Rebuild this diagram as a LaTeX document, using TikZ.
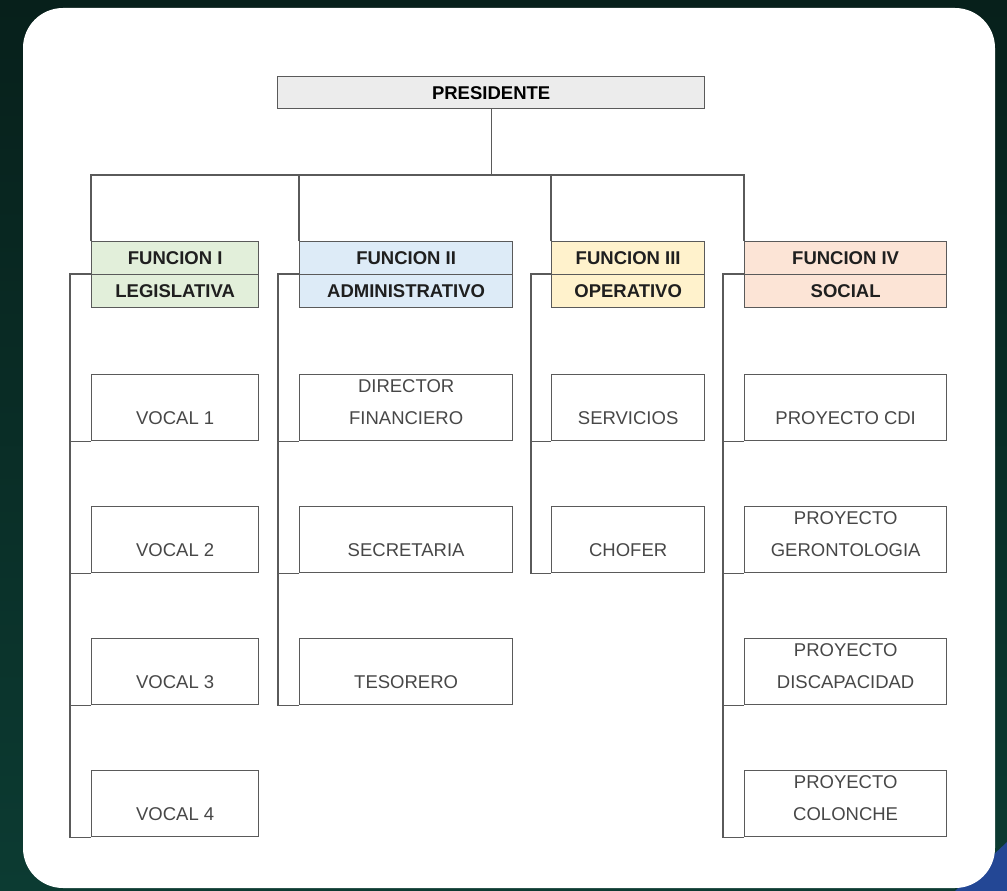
\documentclass[tikz,border=0pt]{standalone}
\usepackage{fontspec}
\setmainfont{Liberation Sans}
\usepackage{xcolor}
\usepackage{tikz}
\usetikzlibrary{positioning}
\definecolor{bgtop}{HTML}{07201B}
\definecolor{bgbot}{HTML}{0C3B32}
\definecolor{cornerblue}{HTML}{234795}
\definecolor{linegray}{HTML}{5A5A5A}
\definecolor{presgray}{HTML}{ECECEC}
\definecolor{fgreen}{HTML}{E2EFDA}
\definecolor{fblue}{HTML}{DDEBF7}
\definecolor{fyellow}{HTML}{FFF2CC}
\definecolor{fsalmon}{HTML}{FCE4D6}
\newcommand{\two}[2]{\strut #1\\\strut #2}
\tikzset{
    box/.style = {draw=linegray, line width=1.3pt, inner sep=0pt, align=center},
    head node/.style = {box, minimum height=33pt, font=\bfseries\fontsize{18.5}{20}\selectfont, text=black!88},
    sub node/.style = {box, fill=white, minimum height=66pt, text height=45pt, text depth=10pt, font=\fontsize{18.5}{32}\selectfont, text=black!72},
    link/.style = {draw=linegray, line width=1.2pt},
    col 1/.style = {minimum width=167pt},
    col 2/.style = {minimum width=213pt},
    col 3/.style = {minimum width=153pt},
    col 4/.style = {minimum width=202pt}
}
\begin{document}
\begin{tikzpicture}[x=1pt,y=-1pt]
    \useasboundingbox (0,0) rectangle (1007,891);
    \shade[top color=bgtop, bottom color=bgbot] (0,0) rectangle (1007,891);
    \fill[cornerblue] (1007,842) -- (1007,891) -- (955,891) -- cycle;
    \fill[white, rounded corners=40pt] (23,8) rectangle (995,888);

    % top
    \node(P)[box, fill=presgray, anchor=north west, minimum width=427pt, minimum height=32pt, font=\bfseries\fontsize{18.5}{20}\selectfont] at (277,76) {PRESIDENTE};
    \coordinate (bus) at (531,175);

    % functions
    \node(1)[head node, col 1, fill=fgreen, anchor=north west] at (91,241) {FUNCION I};
    \node(1b)[head node, col 1, fill=fgreen, below=-1.3pt of 1] {LEGISLATIVA};
    \node(2)[head node, col 2, fill=fblue, anchor=north west] at (299,241) {FUNCION II};
    \node(2b)[head node, col 2, fill=fblue, below=-1.3pt of 2] {ADMINISTRATIVO};
    \node(3)[head node, col 3, fill=fyellow, anchor=north west] at (551,241) {FUNCION III};
    \node(3b)[head node, col 3, fill=fyellow, below=-1.3pt of 3] {OPERATIVO};
    \node(4)[head node, col 4, fill=fsalmon, anchor=north west] at (744,241) {FUNCION IV};
    \node(4b)[head node, col 4, fill=fsalmon, below=-1.3pt of 4] {SOCIAL};

    % legislativa
    \node(1-1)[sub node, col 1, below=65.5pt of 1b] {\two{}{VOCAL 1}};
    \node(1-2)[sub node, col 1, below=64.7pt of 1-1] {\two{}{VOCAL 2}};
    \node(1-3)[sub node, col 1, below=64.7pt of 1-2] {\two{}{VOCAL 3}};
    \node(1-4)[sub node, col 1, below=64.7pt of 1-3] {\two{}{VOCAL 4}};
    % administrativo
    \node(2-1)[sub node, col 2, below=65.5pt of 2b] {\two{DIRECTOR}{FINANCIERO}};
    \node(2-2)[sub node, col 2, below=64.7pt of 2-1] {\two{}{SECRETARIA}};
    \node(2-3)[sub node, col 2, below=64.7pt of 2-2] {\two{}{TESORERO}};
    % operativo
    \node(3-1)[sub node, col 3, below=65.5pt of 3b] {\two{}{SERVICIOS}};
    \node(3-2)[sub node, col 3, below=64.7pt of 3-1] {\two{}{CHOFER}};
    % social
    \node(4-1)[sub node, col 4, below=65.5pt of 4b] {\two{}{PROYECTO CDI}};
    \node(4-2)[sub node, col 4, below=64.7pt of 4-1] {\two{PROYECTO}{GERONTOLOGIA}};
    \node(4-3)[sub node, col 4, below=64.7pt of 4-2] {\two{PROYECTO}{DISCAPACIDAD}};
    \node(4-4)[sub node, col 4, below=64.7pt of 4-3] {\two{PROYECTO}{COLONCHE}};

    % connectors
    \draw[link] (P.south) -- (P.south |- bus);
    \draw[link] (1.north west) -- (1.north west |- bus) -- (4.north west |- bus) -- (4.north west);
    \draw[link] (2.north west) -- (2.north west |- bus);
    \draw[link] (3.north west) -- (3.north west |- bus);

    \draw[link] (1b.north west) -- ++(-21,0) |- (1-4.south west);
    \draw[link] (2b.north west) -- ++(-21,0) |- (2-3.south west);
    \draw[link] (3b.north west) -- ++(-20,0) |- (3-2.south west);
    \draw[link] (4b.north west) -- ++(-21,0) |- (4-4.south west);
    \foreach \n in {1-1,1-2,1-3,2-1,2-2,4-1,4-2,4-3}
        \draw[link] (\n.south west) -- ++(-21,0);
    \draw[link] (3-1.south west) -- ++(-20,0);
\end{tikzpicture}
\end{document}
